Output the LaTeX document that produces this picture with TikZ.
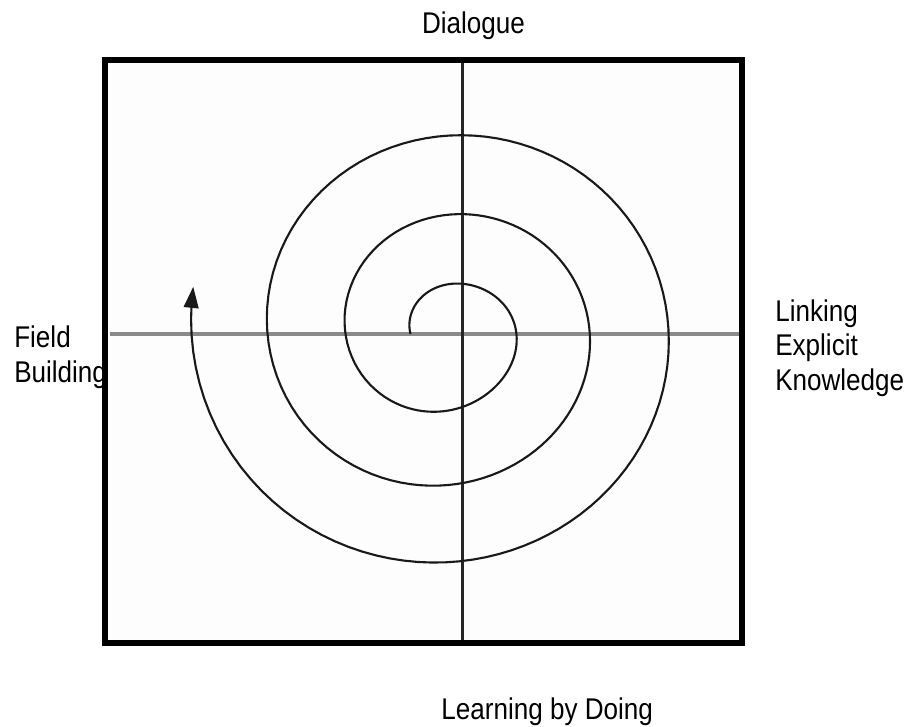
\documentclass[tikz,border=0pt]{standalone}
\usepackage{fontspec}
\setmainfont[FakeStretch=0.87]{Liberation Sans}
\usetikzlibrary{arrows.meta}
\definecolor{panel}{HTML}{FDFDFD}
\definecolor{axisgray}{HTML}{8A8A8A}

\tikzset{
  labeltext/.style={font=\fontsize{21.3}{24.7}\selectfont, inner sep=0pt, align=left},
  spiralline/.style={line width=1.5pt, black!90},
}

\begin{document}
\begin{tikzpicture}[x=0.025cm,y=0.025cm,
  declare function={spr(\u)=52+53.5*\u+14*\u*\u-2.5*\u*\u*\u
    -28*(sin(180*\u)*sin(180*\u)+0.25*sin(360*\u)*sin(360*\u))+5*sin(360*\u);}]
  \useasboundingbox (-462.5,-393) rectangle (443.5,334);
  \draw[line width=4.3pt, fill=panel] (-357.5,-309) rectangle (279.5,274);
  % axes
  \coordinate (W) at (-352,0);
  \coordinate (E) at (276.5,0);
  \coordinate (N) at (0,271);
  \coordinate (S) at (0,-306);
  \draw[axisgray, line width=2.2pt] (W) -- (E);
  \draw[black!85, line width=1.6pt] (N) -- (S);
  % spiral
  \draw[spiralline, -{Triangle[length=15pt,width=10.5pt]}]
    plot[domain=0:3.031, samples=320, variable=\u] ({180-360*\u}:{spr(\u)});
  \node[labeltext, anchor=base] (dialogue) at (11,300) {Dialogue};
  \node[labeltext, anchor=west] (field) at (-448.5,-23.4) {Field\\Building};
  \node[labeltext, anchor=west] (linking) at (312.5,-14) {Linking\\Explicit\\Knowledge};
  \node[labeltext, anchor=base] (doing) at (84.7,-385.3) {Learning by Doing};
\end{tikzpicture}
\end{document}
